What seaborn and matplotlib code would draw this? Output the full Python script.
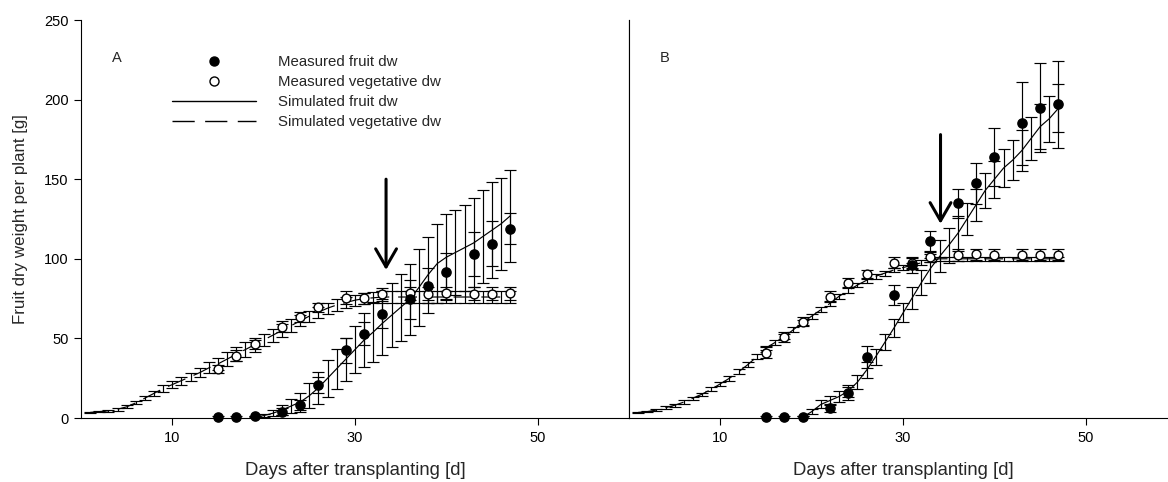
import matplotlib
matplotlib.use('Agg')
import matplotlib.pyplot as plt
from matplotlib.lines import Line2D
import seaborn as sns

# simulated values, one per day after transplanting
sim_days = list(range(1, 48))
fruit_days = list(range(19, 48))

simA_veg = [3.5, 4, 4.5, 5.5, 7, 9.5, 12.5, 15.5, 18.5, 21,
            23.5, 26, 28.5, 31.5, 34, 37, 40, 43, 46, 49,
            52, 55, 58, 61, 64, 66.5, 69, 71, 72.5, 74,
            75, 75.5, 76, 76, 76, 76, 76, 76, 76, 76,
            76, 76, 76, 76, 76, 76, 76]
simA_veg_sd = [0.5, 0.5, 0.5, 0.8, 1, 1, 1.5, 1.5, 2, 2,
               2.5, 2.5, 3, 3.5, 4, 4.5, 4.5, 4.5, 4.5, 4,
               4, 4, 4, 3.5, 3.5, 3.5, 3.5, 3.5, 3.5, 3.5,
               3.5, 3.5, 3.5, 3.5, 3.5, 3.5, 3.5, 3.5, 3.5, 3.5,
               3.5, 3.5, 3.5, 3.5, 3.5, 3.5, 3.5]
simA_fruit = [0.5, 1.5, 3, 5, 7.5, 10, 14, 19, 25, 31,
              37, 43, 49, 54, 59.5, 64.5, 69.5, 74.5, 82, 90,
              97, 101, 104, 107, 110, 114, 118, 122, 127]
simA_fruit_sd = [0.5, 1, 2, 3, 4.5, 6, 8, 10, 11.5, 12.5,
                 13.5, 15, 17, 19, 20, 20, 21, 22.5, 24, 24,
                 25, 27, 26.5, 27, 28, 29.5, 30, 29, 29]

simB_veg = [3.5, 4, 5, 6.5, 8, 10, 12.5, 15, 18, 21.5,
            25, 29, 33.5, 38.5, 44, 47.5, 51, 55.5, 60, 64,
            68, 72, 76.5, 80, 83.5, 86.5, 89, 91, 93, 94.5,
            96, 97.5, 99, 100, 100, 100, 100, 100, 100, 100,
            100, 100, 100, 100, 100, 100, 100]
simB_veg_sd = [0.5, 0.5, 0.5, 0.8, 0.8, 1, 1, 1, 1.2, 1.2,
               1.5, 1.5, 1.5, 1.5, 1.5, 1.5, 1.5, 1.5, 1.5, 1.5,
               1.5, 1.5, 1.5, 1.5, 1.5, 1.5, 1.5, 1.5, 1.5, 1.5,
               1.5, 1.5, 1.2, 1.2, 1.2, 1.2, 1.2, 1.2, 1.2, 1.2,
               1.2, 1.2, 1.2, 1.2, 1.2, 1.2, 1.2]
simB_fruit = [0.5, 4, 8.5, 11, 13.5, 17, 22.5, 30, 38.5, 47.5,
              56.5, 66, 75.5, 85, 94, 101.5, 108.5, 116, 125, 134,
              143, 150, 157, 162, 168, 175.5, 183, 188, 194.5]
simB_fruit_sd = [0.5, 1.5, 2.5, 3, 3.5, 4, 4.5, 5, 5, 5,
                 5.5, 6, 7, 8, 9, 10, 11, 11, 10, 10,
                 11, 11.5, 12, 12.5, 13, 13.5, 14, 14.5, 15]

# measured values
meas_days = [15, 17, 19, 22, 24, 26, 29, 31, 33, 36, 38, 40, 43, 45, 47]

measA_fruit = [0.5, 0.5, 1, 4, 8, 20.5, 42.5, 53, 65.5, 74.5, 83, 91.5, 103, 109.5, 119]
measA_fruit_sd = [0.5, 0.5, 0.5, 2, 3, 5, 8, 7, 9, 12, 11, 12, 14, 14, 10]
measA_veg = [30.8, 39, 46.3, 57.4, 63.6, 69.5, 75.6, 75.2, 77.7, 78.3, 78, 78.5, 78, 78, 78.3]
measA_veg_sd = [2.5, 3.5, 3, 3.5, 3, 3, 4, 3.5, 4, 4, 4, 4, 4, 4, 4]

measB_fruit = [0.5, 0.5, 0.5, 6.5, 15.5, 38.5, 77.3, 96, 111, 134.8, 147.4, 164, 185, 195, 197]
measB_fruit_sd = [0.5, 0.5, 0.5, 2.5, 4, 7, 6.5, 5, 6.5, 9, 13, 18, 26, 28, 27.5]
measB_veg = [41, 51, 60.5, 76.2, 85, 90.2, 97.6, 97.2, 101.3, 102.4, 102.8, 102.7, 102.7, 102.7, 102.7]
measB_veg_sd = [3.5, 3, 3, 3.5, 3, 3, 3.5, 3.5, 3.5, 3.5, 3.5, 3.5, 3.5, 3.5, 3.5]

sns.set_style('ticks')
plt.rcParams['font.family'] = ['Liberation Sans', 'DejaVu Sans']

DASH = (0, (16, 7.5))


def draw_panel(ax, veg, veg_sd, fruit, fruit_sd, m_fruit, m_fruit_sd, m_veg, m_veg_sd,
               arrow, letter):
    eb = dict(fmt='none', ecolor='black', elinewidth=0.85, capsize=4, capthick=0.85)
    # simulated
    ax.errorbar(sim_days, veg, yerr=veg_sd, **eb, zorder=2)
    sns.lineplot(x=sim_days, y=veg, ax=ax, color='black', linewidth=0.85,
                 linestyle=DASH, zorder=2)
    ax.errorbar(fruit_days, fruit, yerr=fruit_sd, **eb, zorder=2)
    sns.lineplot(x=fruit_days, y=fruit, ax=ax, color='black', linewidth=0.85, zorder=2)
    # measured
    ax.errorbar(meas_days, m_veg, yerr=m_veg_sd, **eb, zorder=3)
    ax.errorbar(meas_days, m_fruit, yerr=m_fruit_sd, **eb, zorder=3)
    sns.scatterplot(x=meas_days, y=m_veg, ax=ax, color='white', edgecolor='black',
                    linewidth=1, s=40, zorder=4, clip_on=False)
    sns.scatterplot(x=meas_days, y=m_fruit, ax=ax, color='black', edgecolor='black',
                    linewidth=1, s=44, zorder=5, clip_on=False)
    ax.annotate('', xy=(arrow[0], arrow[2]), xytext=(arrow[0], arrow[1]),
                arrowprops=dict(arrowstyle='->,head_length=1.3,head_width=0.75',
                                lw=2.2, color='black', mutation_scale=10,
                                shrinkA=0, shrinkB=0))
    ax.text(0.0657, 0.9045, letter, transform=ax.transAxes, ha='center', va='center',
            fontsize=10.5)
    ax.set_ylim(0, 250)
    ax.set_xticks([10, 30, 50])
    ax.set_yticks([0, 50, 100, 150, 200, 250])
    ax.tick_params(direction='out', length=5, width=0.8, pad=4, labelsize=10.5,
                   colors='black')
    ax.set_xlabel('Days after transplanting [d]', fontsize=13.3)
    ax.xaxis.label.set_va('center')
    ax.xaxis.set_label_coords(0.5, -0.1307)
    for s in ax.spines.values():
        s.set_linewidth(0.8)
        s.set_color('black')


fig = plt.figure(figsize=(11.68, 4.82), dpi=100)
axA = fig.add_axes([81 / 1168, 64 / 482, 548 / 1168, 398 / 482])
axB = fig.add_axes([629 / 1168, 64 / 482, 539 / 1168, 398 / 482])

draw_panel(axA, simA_veg, simA_veg_sd, simA_fruit, simA_fruit_sd,
           measA_fruit, measA_fruit_sd, measA_veg, measA_veg_sd, (33.4, 150, 93), 'A')
draw_panel(axB, simB_veg, simB_veg_sd, simB_fruit, simB_fruit_sd,
           measB_fruit, measB_fruit_sd, measB_veg, measB_veg_sd, (34.1, 178, 122), 'B')

axA.set_xlim(0, 60)
axB.set_xlim(0, 59)
axA.spines['top'].set_visible(False)
axB.spines['top'].set_visible(False)
axB.spines['right'].set_visible(False)
axB.tick_params(axis='y', left=False, labelleft=False)
# the right panel is cut at the figure edge, keep its label centred like panel A
axB.xaxis.set_label_coords(30 / 59, -0.1307)

axA.set_ylabel('Fruit dry weight per plant [g]', fontsize=12.2)
axA.yaxis.label.set_va('center')
axA.yaxis.set_label_coords(-0.111, 0.5)

handles = [
    Line2D([], [], marker='o', color='black', linestyle='none', markersize=6.5),
    Line2D([], [], marker='o', markerfacecolor='white', markeredgecolor='black',
           linestyle='none', markersize=6.5),
    Line2D([], [], color='black', linewidth=1),
    Line2D([], [], color='black', linewidth=1, linestyle=DASH),
]
labels = ['Measured fruit dw', 'Measured vegetative dw', 'Simulated fruit dw',
          'Simulated vegetative dw']
axA.legend(handles, labels, loc='upper left', bbox_to_anchor=(0.166, 0.912),
           frameon=False, fontsize=10.8, handlelength=5.6, handletextpad=1.48,
           labelspacing=0.4, borderpad=0, borderaxespad=0, numpoints=1)

fig.savefig('out.png', dpi=100)
